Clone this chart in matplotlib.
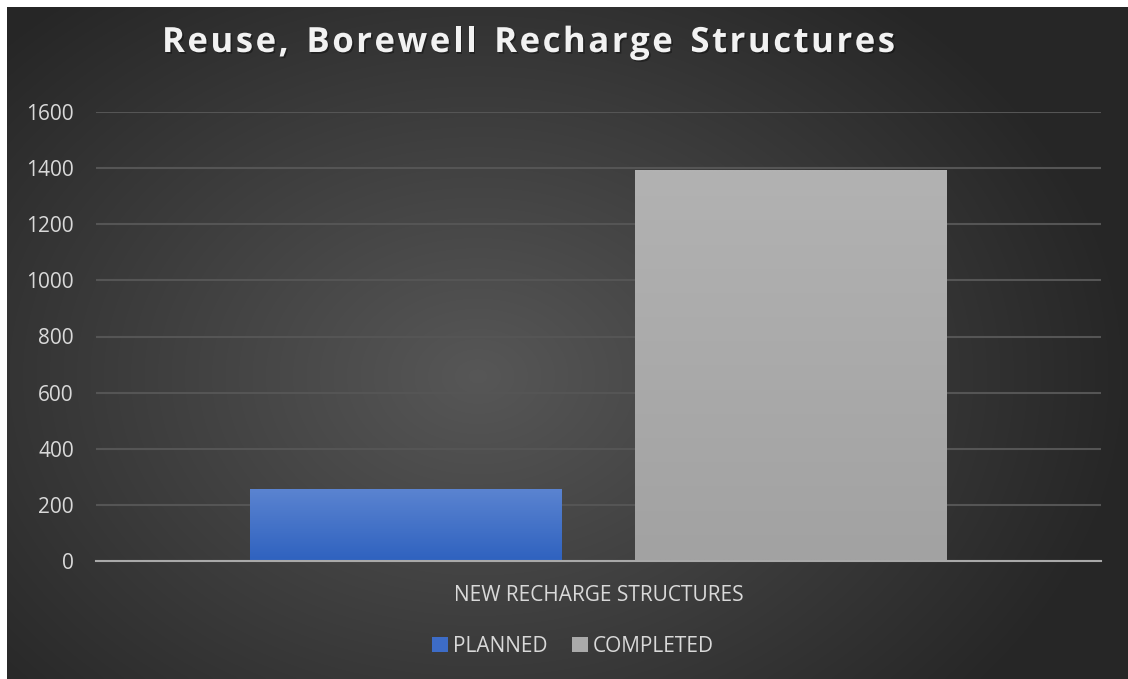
import numpy as np
import matplotlib.pyplot as plt
import matplotlib.patheffects as pe
from matplotlib.patches import Patch

categories = ['NEW RECHARGE STRUCTURES']
series_names = ['PLANNED', 'COMPLETED']
planned = [257]
completed = [1393]
yticks = [0, 200, 400, 600, 800, 1000, 1200, 1400, 1600]
title = 'Reuse, Borewell Recharge Structures'

W, H = 1128, 679
fig = plt.figure(figsize=(W / 100, H / 100), dpi=100)
fig.patch.set_facecolor('white')

# radial gradient background (dark area starts a few pixels in from top/left)
bg = fig.add_axes([7 / W, 0, 1 - 7 / W, 1 - 7 / H])
yy, xx = np.mgrid[0:1:300j, 0:1:500j]
r = np.sqrt(((xx - 0.42) * 1.25) ** 2 + ((yy - 0.55) * 1.0) ** 2)
shade = np.clip(0.34 - 0.26 * r, 0.15, 0.34)
bg.imshow(np.dstack([shade, shade, shade]), aspect='auto', extent=[0, 1, 0, 1],
          interpolation='bicubic')
bg.set_axis_off()

ax = fig.add_axes([96 / W, 1 - 561 / H, 1005 / W, (561 - 112) / H])
ax.patch.set_alpha(0)

width = 0.3095
gap = 0.0736
x = np.arange(len(categories))
off = (width + gap) / 2

def grad_bar(xc, h, top, bottom):
    bar = ax.bar(xc, h, width=width, color=bottom, zorder=3)[0]
    c1 = np.array(plt.matplotlib.colors.to_rgb(top))
    c2 = np.array(plt.matplotlib.colors.to_rgb(bottom))
    t = np.linspace(0, 1, 100)[:, None]
    img = (c1 * (1 - t) + c2 * t)[:, None, :]
    im = ax.imshow(img, aspect='auto', extent=[xc - width / 2, xc + width / 2, 0, h],
                   zorder=4, interpolation='bilinear')
    im.set_clip_path(bar)

for i in x:
    grad_bar(i - off, planned[i], '#5b84d1', '#2f62bf')
    grad_bar(i + off, completed[i], '#b2b2b2', '#a2a2a2')

ax.set_xlim(-0.5, 0.5)
ax.set_ylim(0, 1600)
ax.set_yticks(yticks)
ax.set_yticklabels([str(v) for v in yticks])
ax.set_xticks(x)
ax.set_xticklabels(categories)
ax.grid(axis='y', color='#555555', linewidth=1.5, zorder=0)
for s in ['top', 'right', 'left']:
    ax.spines[s].set_visible(False)
ax.spines['bottom'].set_color('#a9a9a9')
ax.spines['bottom'].set_linewidth(1.5)
ax.spines['bottom'].set_zorder(5)
ax.tick_params(axis='both', length=0, colors='#d9d9d9', labelsize=15)
ax.tick_params(axis='y', pad=16)
ax.tick_params(axis='x', pad=17)
for lab in ax.get_xticklabels() + ax.get_yticklabels():
    lab.set_family('Open Sans')

# title with letter spacing, drawn one character at a time
renderer = fig.canvas.get_renderer()
tkw = dict(fontsize=25, fontweight='bold', color='#f2f2f2', family='Open Sans',
           va='baseline', ha='left',
           path_effects=[pe.withSimplePatchShadow(offset=(1.2, -1.2), shadow_rgbFace='black', alpha=0.35)])
widths = []
for ch in title:
    tmp = fig.text(0, 0, ch if ch != ' ' else 'n', **tkw)
    w = tmp.get_window_extent(renderer).width
    tmp.remove()
    widths.append(w * (0.55 if ch == ' ' else 1.0))
target = 733
spacing = (target - sum(widths)) / (len(title) - 1)
xpos = 162
for ch, w in zip(title, widths):
    if ch != ' ':
        fig.text(xpos / W, 1 - 52 / H, ch, **tkw)
    xpos += w + spacing

handles = [Patch(facecolor='#3d6cc7'), Patch(facecolor='#aaaaaa')]
leg = fig.legend(handles, series_names, loc='center', bbox_to_anchor=(573 / W, 1 - 646 / H),
                 ncol=2, frameon=False, handlelength=0.75, handleheight=0.75,
                 handletextpad=0.25, columnspacing=1.2,
                 prop={'family': 'Open Sans', 'size': 15})
for t in leg.get_texts():
    t.set_color('#d9d9d9')

fig.savefig('out.png', dpi=100, facecolor=fig.get_facecolor())
